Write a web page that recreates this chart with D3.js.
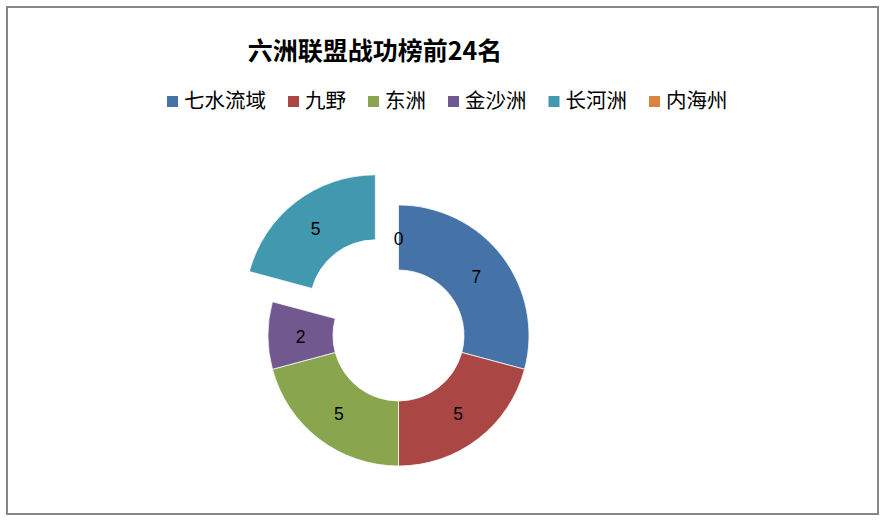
<!DOCTYPE html>
<html>
<head>
<meta charset="utf-8">
<script src="https://cdn.jsdelivr.net/npm/d3@7"></script>
<style>
  html, body { margin: 0; padding: 0; background: #fff; }
  svg { display: block; }
</style>
</head>
<body>
<svg id="chart" width="883" height="520"></svg>
<script>
// ---- data ----
const title = "六洲联盟战功榜前24名";
const categories = ["七水流域", "九野", "东洲", "金沙洲", "长河洲", "内海州"];
const values = [7, 5, 5, 2, 5, 0];
const colors = ["#4572A7", "#AA4643", "#89A54E", "#71588F", "#4198AF", "#DB843D"];
const explodedCategory = "长河洲";

// ---- layout ----
const W = 883, H = 520;
const svg = d3.select("#chart");
const cx = 398.5, cy = 335.5, outerR = 130.5, innerR = 65.5, explodeDist = 38;
const cjk = "'Noto Sans CJK SC', 'Noto Sans', sans-serif";

svg.append("rect").attr("x", 0).attr("y", 0).attr("width", W).attr("height", H).attr("fill", "#fff");
svg.append("rect")
  .attr("x", 7).attr("y", 7).attr("width", 871).attr("height", 507)
  .attr("fill", "none").attr("stroke", "#868686").attr("stroke-width", 2);

// title
svg.append("text")
  .attr("x", 375).attr("y", 60)
  .attr("text-anchor", "middle")
  .attr("font-family", cjk)
  .attr("font-weight", "bold")
  .attr("font-size", 25)
  .attr("fill", "#000")
  .text(title);

// legend
const color = d3.scaleOrdinal().domain(categories).range(colors);
const legend = svg.append("g");
let lx = 167;
categories.forEach((c) => {
  const g = legend.append("g").attr("transform", `translate(${lx},0)`);
  g.append("rect").attr("x", 0).attr("y", 96).attr("width", 11).attr("height", 11).attr("fill", color(c));
  const t = g.append("text")
    .attr("x", 17).attr("y", 108)
    .attr("font-family", cjk)
    .attr("font-size", 20.5)
    .attr("fill", "#000")
    .text(c);
  const w = t.node().getComputedTextLength();
  lx += 17 + w + 22;
});

// donut
const pie = d3.pie().sort(null).value(d => d.value).startAngle(0).endAngle(2 * Math.PI);
const data = pie(categories.map((c, i) => ({ name: c, value: values[i] })));
const arc = d3.arc().innerRadius(innerR).outerRadius(outerR);
const labelArc = d3.arc().innerRadius((innerR + outerR) / 2).outerRadius((innerR + outerR) / 2);

function offset(d) {
  if (d.data.name !== explodedCategory) return [0, 0];
  const mid = (d.startAngle + d.endAngle) / 2;
  return [Math.sin(mid) * explodeDist, -Math.cos(mid) * explodeDist];
}

const plot = svg.append("g").attr("transform", `translate(${cx},${cy})`);
const slices = plot.selectAll("g.slice").data(data).enter().append("g")
  .attr("class", "slice")
  .attr("transform", d => { const o = offset(d); return `translate(${o[0]},${o[1]})`; });

slices.filter(d => d.value > 0).append("path")
  .attr("d", arc)
  .attr("fill", d => color(d.data.name))
  .attr("stroke", "#fff")
  .attr("stroke-width", 0.75);

slices.append("text")
  .attr("transform", d => { const p = labelArc.centroid(d); return `translate(${p[0]},${p[1] + 1})`; })
  .attr("text-anchor", "middle")
  .attr("dominant-baseline", "central")
  .attr("font-family", "'Liberation Sans', Arial, sans-serif")
  .attr("font-size", 17.5)
  .attr("fill", "#000")
  .text(d => d.data.value);
</script>
</body>
</html>
